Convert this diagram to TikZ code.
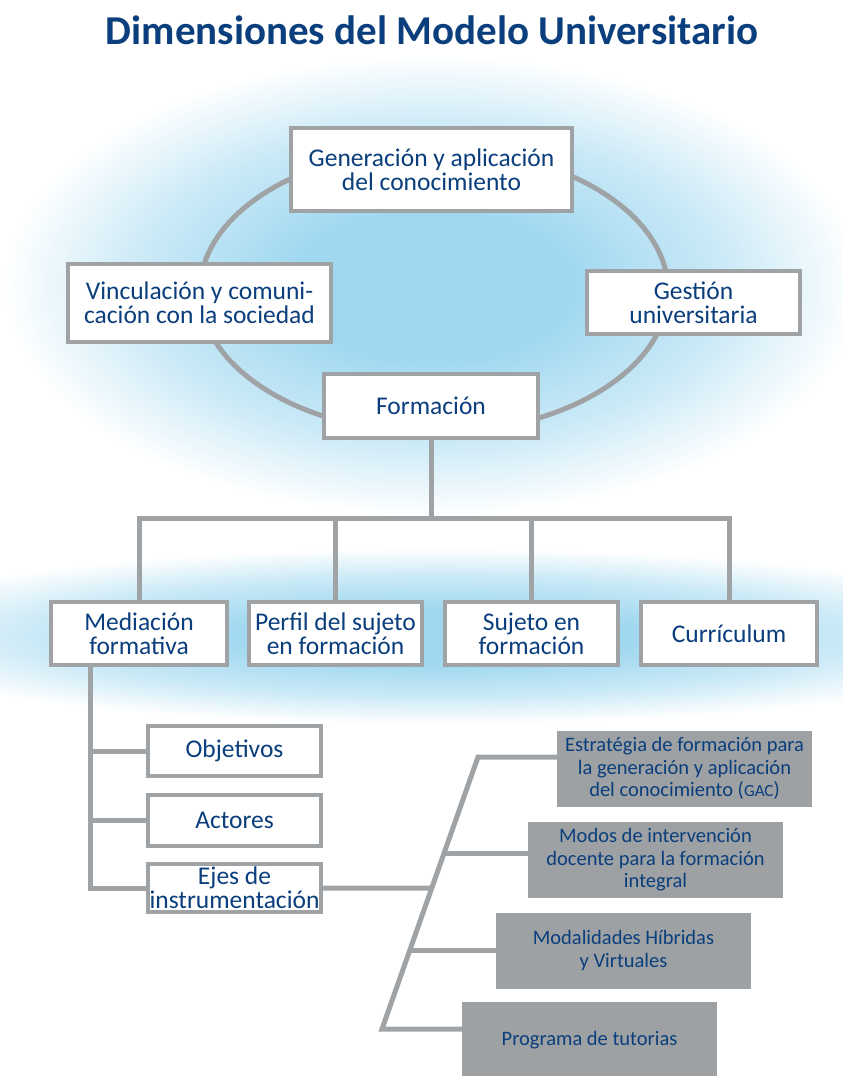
\documentclass[tikz,border=0pt]{standalone}
\usepackage{fontspec}
\setmainfont{Carlito}
\usetikzlibrary{calc}
\definecolor{textblue}{RGB}{10,62,124}
\definecolor{linegray}{RGB}{160,163,166}
\definecolor{boxgray}{RGB}{157,161,164}
\definecolor{glowblue}{RGB}{160,216,240}
\pgfdeclareradialshading{glow}{\pgfpoint{0bp}{0bp}}{color(0bp)=(glowblue); color(8bp)=(glowblue); color(17bp)=(glowblue!55!white); color(25bp)=(white); color(50bp)=(white)}
\tikzstyle{title}=[text=textblue,font=\fontsize{41}{44}\selectfont\bfseries]
\tikzstyle{whitebox}=[rectangle,draw=linegray,line width=4pt,fill=white,text=textblue,align=center,inner sep=0pt,font=\fontsize{25.5}{24}\selectfont]
\tikzstyle{graybox}=[rectangle,fill=boxgray,text=textblue,align=center,inner sep=0pt,font=\fontsize{20.5}{22.5}\selectfont]
\tikzstyle{link}=[draw=linegray,line width=5pt]
\tikzstyle{ring}=[draw=linegray,line width=5pt]

\begin{document}
\begin{tikzpicture}[x=1pt,y=-1pt]
    \useasboundingbox (0,0) rectangle (843,1076);
    % Soft blue glow behind the ring and the second row
    \shade[shading=glow] (432,285) ellipse [x radius=430,y radius=230];
    \shade[shading=glow] (440,636) ellipse [x radius=600,y radius=88];

    \node[title] (T) at (432,30) {Dimensiones del Modelo Universitario};

    % The ring joining the four dimensions
    \draw[ring] (434,291) ellipse [x radius=234,y radius=142];

    % First we draw the white boxes
    \foreach \pos/\name/\bw/\bh/\txt in {{(431.5,169.5)/Gen/281/83/{Generación y aplicación\\del conocimiento}},
        {(199.5,303)/Vinc/263/78/{Vinculación y comuni-\\cación con la sociedad}},
        {(693.5,302.5)/Gest/213/63/{Gestión\\universitaria}},
        {(431,406)/Form/214/64/{Formación}},
        {(139,633.5)/Med/176/63/{Mediación\\formativa}},
        {(335.5,633.5)/Perf/173/63/{Perfil del sujeto\\en formación}},
        {(531.5,633.5)/Suj/173/63/{Sujeto en\\formación}},
        {(729,633.5)/Curr/176/63/{Currículum}},
        {(234.5,751)/Obj/173/50/{Objetivos}},
        {(234.5,820.5)/Act/173/51/{Actores}},
        {(234.5,888)/Ejes/173/48/{Ejes de\\instrumentación}}}
        \node[whitebox,minimum width=\bw,minimum height=\bh] (\name) at \pos {\txt};

    % Then the grey boxes
    \foreach \pos/\name/\txt in {{(684.5,768.5)/Est/{Estratégia de formación para\\la generación y aplicación\\del conocimiento ({\fontsize{17}{22}\selectfont GAC})}},
        {(655.5,860)/Modos/{Modos de intervención\\docente para la formación\\integral}},
        {(623.5,950.5)/Moda/{Modalidades Híbridas\\y Virtuales}},
        {(589.5,1040)/Prog/{Programa de tutorias}}}
        \node[graybox,minimum width=255,minimum height=76] (\name) at \pos {\txt};

    % Connect Formación with the second row
    \coordinate (fork) at (431,518);
    \draw[link] (Form) -- (fork);
    \foreach \name in {Med,Perf,Suj,Curr}
        \draw[link] (\name.north) |- (fork);

    % Branches of Mediación formativa
    \coordinate (medfoot) at (90,888);
    \draw[link] (Med.south -| medfoot) |- (Ejes.west);
    \foreach \name in {Obj,Act}
        \draw[link] (\name.west) -- (\name.west -| medfoot);

    % Slanted spine for the instruments
    \coordinate (spinetop) at (478,757);
    \coordinate (spinebot) at (382,1029);
    \coordinate (spmodos) at ($(spinetop)!0.353!(spinebot)$);
    \coordinate (spejes) at ($(spinetop)!0.482!(spinebot)$);
    \coordinate (spmoda) at ($(spinetop)!0.710!(spinebot)$);
    \draw[link] (Est.west |- spinetop) -- (spinetop) -- (spinebot) -- (Prog.west |- spinebot);
    \draw[link] (Ejes.east) -- (spejes);
    \draw[link] (spmodos) -- (spmodos -| Modos.west);
    \draw[link] (spmoda) -- (spmoda -| Moda.west);
\end{tikzpicture}
\end{document}
